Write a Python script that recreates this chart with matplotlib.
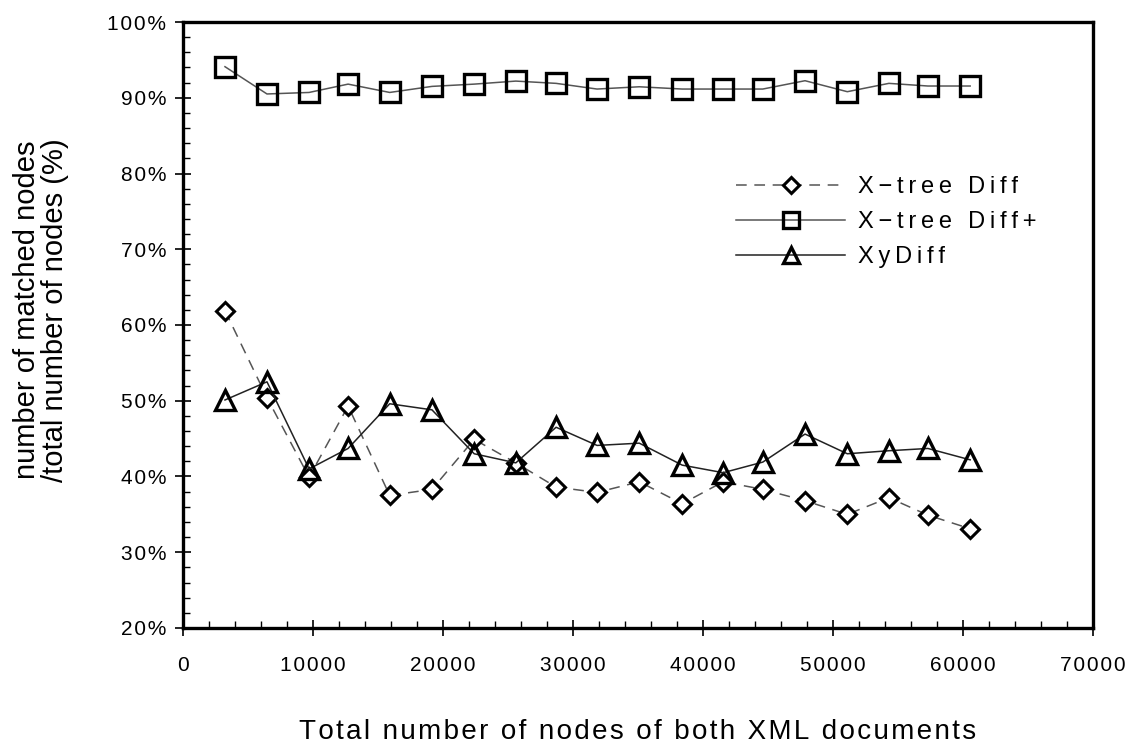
import matplotlib.pyplot as plt
from matplotlib.ticker import MultipleLocator, FuncFormatter

# node counts (x) and match ratios (%)
nodes = [3230, 6460, 9700, 12700, 15900, 19150, 22400, 25600, 28700, 31850,
         35100, 38400, 41550, 44600, 47850, 51100, 54300, 57300, 60550]
xtree_diff = [61.9, 50.4, 39.9, 49.3, 37.5, 38.3, 44.9, 41.8, 38.6, 37.9,
              39.3, 36.4, 39.3, 38.3, 36.8, 35.0, 37.2, 34.9, 33.1]
xtree_diff_plus = [94.1, 90.5, 90.7, 91.8, 90.7, 91.5, 91.8, 92.2, 91.9, 91.15,
                   91.45, 91.15, 91.15, 91.15, 92.25, 90.8, 91.9, 91.55, 91.55]
xydiff = [50.1, 52.5, 41.0, 43.7, 49.6, 48.8, 43.0, 41.8, 46.5, 44.1,
          44.4, 41.5, 40.5, 41.9, 45.6, 43.0, 43.4, 43.7, 42.2]

plt.rcParams['font.family'] = ['Liberation Sans', 'DejaVu Sans']


def spaced(s, gap='\u2009'):
    # the original font is letter-spaced, fake it with thin spaces
    return gap.join(s)


fig = plt.figure(figsize=(11.31, 7.46), dpi=100)
ax = fig.add_axes([0.1618, 0.1582, 0.8046, 0.8123])

ax.plot(nodes, xtree_diff, linestyle=(0, (7, 5)), color='#555555', linewidth=1.1,
        marker='D', markersize=9, markerfacecolor='white', markeredgecolor='black',
        markeredgewidth=2.2, label=spaced('X\u2212tree Diff'))
ax.plot(nodes, xtree_diff_plus, linestyle='-', color='#555555', linewidth=1.1,
        marker='s', markersize=14, markerfacecolor='none', markeredgecolor='black',
        markeredgewidth=2.4, label=spaced('X\u2212tree Diff+'))
ax.plot(nodes, xydiff, linestyle='-', color='#222222', linewidth=1.1,
        marker='^', markersize=14, markerfacecolor='none', markeredgecolor='black',
        markeredgewidth=2.4, label=spaced('XyDiff'))

ax.set_xlim(0, 70000)
ax.set_ylim(20, 100)
ax.xaxis.set_major_locator(MultipleLocator(10000))
ax.xaxis.set_minor_locator(MultipleLocator(2000))
ax.yaxis.set_major_locator(MultipleLocator(10))
ax.yaxis.set_minor_locator(MultipleLocator(2))
ax.xaxis.set_major_formatter(FuncFormatter(lambda v, p: spaced(f"{int(v)}", '\u200a')))
ax.yaxis.set_major_formatter(FuncFormatter(lambda v, p: spaced(f"{int(v)}%", '\u200a')))

for s in ax.spines.values():
    s.set_linewidth(2.4)
    s.set_color('black')

ax.tick_params(which='major', direction='inout', length=12, width=1.2, labelsize=15)
ax.tick_params(which='minor', direction='in', length=5, width=1.0)
ax.tick_params(axis='x', which='major', pad=14)
ax.tick_params(axis='y', which='major', pad=6)

ax.set_xlabel(spaced('Total number of nodes of both XML documents', '\u200a'), fontsize=20,
              labelpad=32)
ax.set_ylabel('number of matched nodes\n/total number of nodes (%)', fontsize=21,
              linespacing=1.0)
ax.yaxis.set_label_coords(-0.125, 0.525)

ax.legend(loc='upper left', bbox_to_anchor=(0.595, 0.765), frameon=False, fontsize=17,
          handlelength=4.6, labelspacing=0.55, handletextpad=0.55, borderpad=0,
          markerscale=0.85)

fig.savefig('out.png', dpi=100, facecolor='white')
